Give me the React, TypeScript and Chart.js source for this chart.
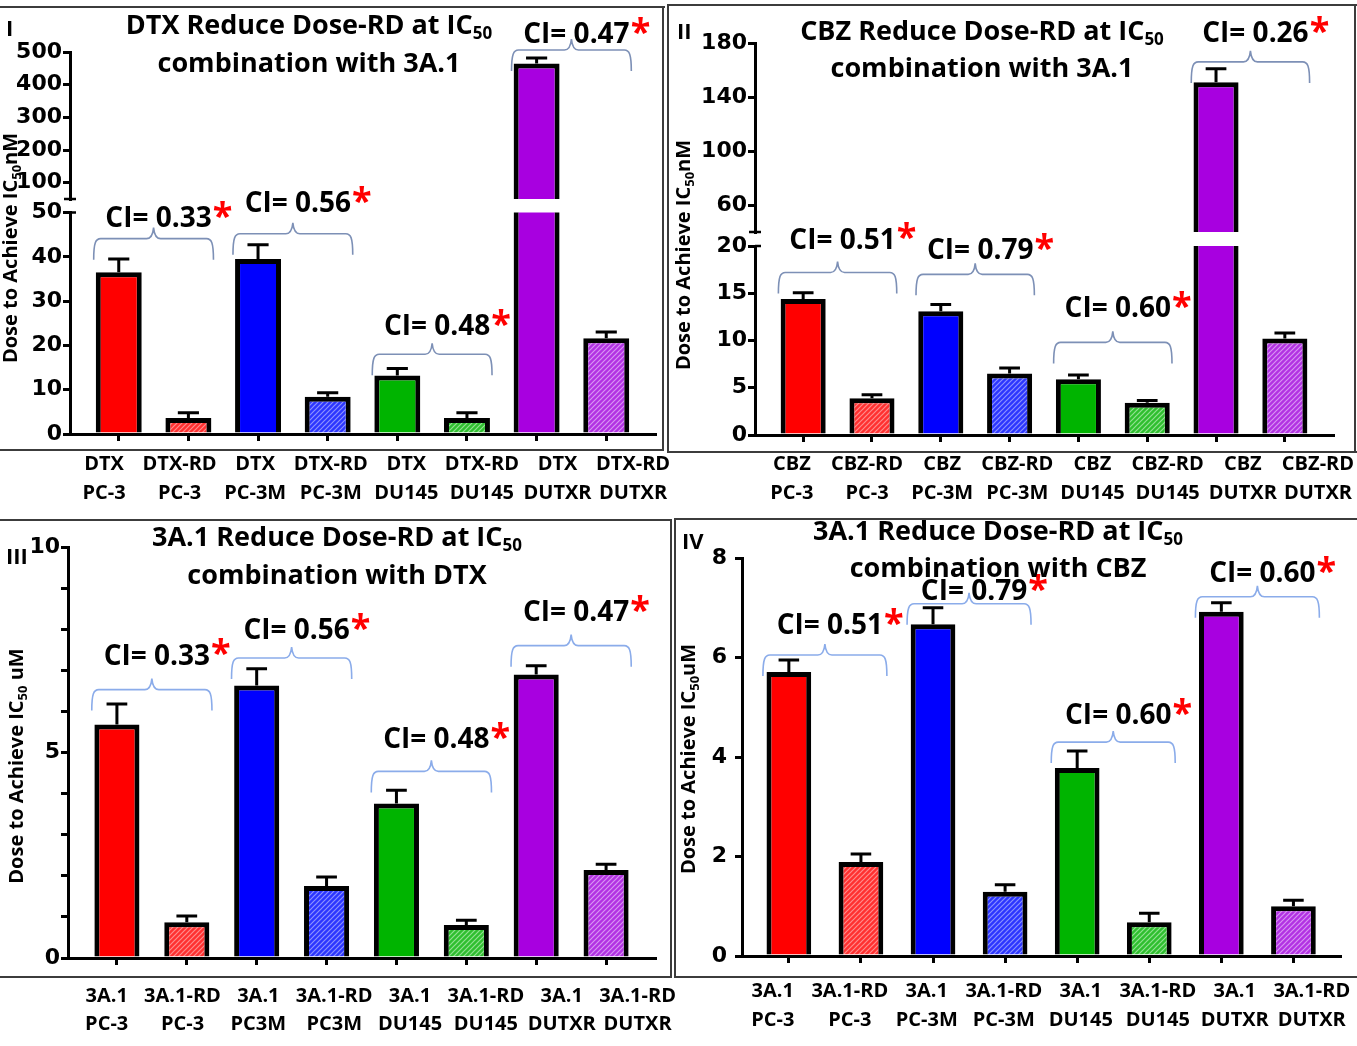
import React, { useEffect, useRef } from 'react';
import { Chart, registerables } from 'chart.js';
Chart.register(...registerables);

// ---------------- data ----------------
const dtxCategories = [['DTX', 'PC-3'], ['DTX-RD', 'PC-3'], ['DTX', 'PC-3M'], ['DTX-RD', 'PC-3M'], ['DTX', 'DU145'], ['DTX-RD', 'DU145'], ['DTX', 'DUTXR'], ['DTX-RD', 'DUTXR']];
const dtxDose = [36.5, 3.6, 39.5, 8.4, 13.2, 3.6, 465, 21.6];
const dtxSD = [3.0, 1.2, 3.2, 0.9, 1.6, 1.2, 17, 1.4];
const dtxCI = ['0.33', '0.56', '0.48', '0.47'];
const dtxTopTicks = [100, 200, 300, 400, 500];
const dtxBottomTicks = [0, 10, 20, 30, 40, 50];

const cbzCategories = [['CBZ', 'PC-3'], ['CBZ-RD', 'PC-3'], ['CBZ', 'PC-3M'], ['CBZ-RD', 'PC-3M'], ['CBZ', 'DU145'], ['CBZ-RD', 'DU145'], ['CBZ', 'DUTXR'], ['CBZ-RD', 'DUTXR']];
const cbzDose = [14.4, 3.9, 13.1, 6.5, 5.9, 3.4, 151, 10.2];
const cbzSD = [0.65, 0.35, 0.7, 0.6, 0.45, 0.25, 10, 0.6];
const cbzCI = ['0.51', '0.79', '0.60', '0.26'];
const cbzTopTicks = [60, 100, 140, 180];
const cbzBottomTicks = [0, 5, 10, 15, 20];

const a31DtxCategories = [['3A.1', 'PC-3'], ['3A.1-RD', 'PC-3'], ['3A.1', 'PC3M'], ['3A.1-RD', 'PC3M'], ['3A.1', 'DU145'], ['3A.1-RD', 'DU145'], ['3A.1', 'DUTXR'], ['3A.1-RD', 'DUTXR']];
const a31DtxDose = [5.68, 0.87, 6.63, 1.75, 3.76, 0.8, 6.9, 2.14];
const a31DtxSD = [0.5, 0.15, 0.41, 0.22, 0.32, 0.12, 0.21, 0.14];
const a31DtxCI = ['0.33', '0.56', '0.48', '0.47'];
const a31DtxTicks = [0, 1, 2, 3, 4, 5, 6, 7, 8, 9, 10];

const a31CbzCategories = [['3A.1', 'PC-3'], ['3A.1-RD', 'PC-3'], ['3A.1', 'PC-3M'], ['3A.1-RD', 'PC-3M'], ['3A.1', 'DU145'], ['3A.1-RD', 'DU145'], ['3A.1', 'DUTXR'], ['3A.1-RD', 'DUTXR']];
const a31CbzDose = [5.71, 1.89, 6.67, 1.29, 3.78, 0.68, 6.92, 1.0];
const a31CbzSD = [0.24, 0.16, 0.33, 0.14, 0.34, 0.18, 0.18, 0.12];
const a31CbzCI = ['0.51', '0.79', '0.60', '0.60'];
const a31CbzTicks = [0, 2, 4, 6, 8];

// ---------------- styles ----------------
const SOLID = ['#ff0000', '#0000ff', '#00b400', '#a800e0'];
const HATCH = [
  ['#ff3030', '#ff8c8c'],
  ['#2c36ff', '#8c92ff'],
  ['#2fbf2f', '#92e292'],
  ['#b232e3', '#d894f3'],
];
const SANS = '"Open Sans", "DejaVu Sans", sans-serif';
const font = (s: number) => `bold ${s}px ${SANS}`;

type Seg = { min: number; max: number; ticks: number[]; areaTop: number; areaBottom: number };
type Ann = { pair: number; at: number; lift: number; seg: 'top' | 'bottom' };
type Panel = {
  box: { left: number; top: number; width: number; height: number };
  categories: string[][];
  dose: number[];
  sd: number[];
  ci: string[];
  yWidth: number;
  yPad: number;
  padRight: number;
  xMin: number;
  xMax: number;
  barPct: number;
  labelMin: number;
  labelMax: number;
  labelPad: number;
  labelLine: number;
  labelEvery?: number;
  bottom: Seg;
  top?: Seg;
  ann: Ann[];
  bracketColor: string;
  title: { l1: string; l2: string; cx: number; cy1: number; cy2: number };
  yTitle: { x: number; cy: number; suffix: string };
  tag: { text: string; x: number; cy: number };
};

const panels: Panel[] = [
  {
    box: { left: 0, top: 0, width: 690, height: 515 },
    categories: dtxCategories, dose: dtxDose, sd: dtxSD, ci: dtxCI,
    yWidth: 70, yPad: 1, padRight: 35, xMin: -0.7, xMax: 7.7, barPct: 0.66,
    labelMin: -0.45, labelMax: 7.29, labelPad: 0.5, labelLine: 29,
    bottom: { min: 0, max: 50, ticks: dtxBottomTicks, areaTop: 212.5, areaBottom: 434 },
    top: { min: 50, max: 500, ticks: dtxTopTicks, areaTop: 52, areaBottom: 199 },
    ann: [
      { pair: 0, at: 44.1, lift: 22, seg: 'bottom' },
      { pair: 1, at: 45.2, lift: 32, seg: 'bottom' },
      { pair: 2, at: 18, lift: 29, seg: 'bottom' },
      { pair: 3, at: 506, lift: 17, seg: 'top' },
    ],
    bracketColor: '#7d90b6',
    title: { l1: 'DTX Reduce Dose-RD at IC', l2: 'combination with 3A.1', cx: 309, cy1: 24, cy2: 62 },
    yTitle: { x: 17, cy: 248, suffix: 'nM' },
    tag: { text: 'I', x: 6, cy: 28 },
  },
  {
    box: { left: 667, top: 0, width: 690, height: 515 },
    categories: cbzCategories, dose: cbzDose, sd: cbzSD, ci: cbzCI,
    yWidth: 88, yPad: 1, padRight: 24, xMin: -0.7, xMax: 7.7, barPct: 0.655,
    labelMin: -0.49, labelMax: 7.2, labelPad: -0.5, labelLine: 29,
    bottom: { min: 0, max: 20, ticks: cbzBottomTicks, areaTop: 246, areaBottom: 435 },
    top: { min: 40, max: 180, ticks: cbzTopTicks, areaTop: 43, areaBottom: 232 },
    ann: [
      { pair: 0, at: 17.2, lift: 34, seg: 'bottom' },
      { pair: 1, at: 17.0, lift: 25, seg: 'bottom' },
      { pair: 2, at: 9.8, lift: 35, seg: 'bottom' },
      { pair: 3, at: 166, lift: 30, seg: 'top' },
    ],
    bracketColor: '#7d90b6',
    title: { l1: 'CBZ Reduce Dose-RD at IC', l2: 'combination with 3A.1', cx: 315, cy1: 30, cy2: 67 },
    yTitle: { x: 23, cy: 255, suffix: 'nM' },
    tag: { text: 'II', x: 10, cy: 31 },
  },
  {
    box: { left: 0, top: 515, width: 700, height: 531 },
    categories: a31DtxCategories, dose: a31DtxDose, sd: a31DtxSD, ci: a31DtxCI,
    yWidth: 68, yPad: 1, padRight: 45, xMin: -0.7, xMax: 7.7, barPct: 0.645,
    labelMin: -0.51, labelMax: 7.23, labelPad: 9, labelLine: 28, labelEvery: 5,
    bottom: { min: 0, max: 10, ticks: a31DtxTicks, areaTop: 32, areaBottom: 443 },
    ann: [
      { pair: 0, at: 6.53, lift: 35, seg: 'bottom' },
      { pair: 1, at: 7.3, lift: 29, seg: 'bottom' },
      { pair: 2, at: 4.54, lift: 33, seg: 'bottom' },
      { pair: 3, at: 7.6, lift: 35, seg: 'bottom' },
    ],
    bracketColor: '#8bacea',
    title: { l1: '3A.1 Reduce Dose-RD at IC', l2: 'combination with DTX', cx: 337, cy1: 21, cy2: 59 },
    yTitle: { x: 23, cy: 251, suffix: ' uM' },
    tag: { text: 'III', x: 6, cy: 41 },
  },
  {
    box: { left: 673, top: 515, width: 684, height: 531 },
    categories: a31CbzCategories, dose: a31CbzDose, sd: a31CbzSD, ci: a31CbzCI,
    yWidth: 69, yPad: 8, padRight: 16, xMin: -0.65, xMax: 7.65, barPct: 0.62,
    labelMin: -0.4, labelMax: 7.37, labelPad: 6, labelLine: 29,
    bottom: { min: 0, max: 8, ticks: a31CbzTicks, areaTop: 43, areaBottom: 441 },
    ann: [
      { pair: 0, at: 6.05, lift: 31, seg: 'bottom' },
      { pair: 1, at: 7.08, lift: 14, seg: 'bottom' },
      { pair: 2, at: 4.3, lift: 28, seg: 'bottom' },
      { pair: 3, at: 7.22, lift: 25, seg: 'bottom' },
    ],
    bracketColor: '#8bacea',
    title: { l1: '3A.1 Reduce Dose-RD at IC', l2: 'combination with CBZ', cx: 325, cy1: 15, cy2: 52 },
    yTitle: { x: 22, cy: 244, suffix: 'uM' },
    tag: { text: 'IV', x: 9, cy: 26 },
  },
];

const frameLines = [
  { left: 0, top: 6, width: 665, height: 2 },
  { left: 662, top: 6, width: 2, height: 445 },
  { left: 0, top: 449, width: 664, height: 2 },
  { left: 667, top: 4, width: 690, height: 2 },
  { left: 667, top: 4, width: 2, height: 449 },
  { left: 1354, top: 4, width: 2, height: 449 },
  { left: 667, top: 451, width: 690, height: 2 },
  { left: 0, top: 519, width: 672, height: 2 },
  { left: 670, top: 519, width: 2, height: 459 },
  { left: 0, top: 976, width: 672, height: 2 },
  { left: 674, top: 518, width: 683, height: 2 },
  { left: 674, top: 518, width: 2, height: 460 },
  { left: 674, top: 976, width: 683, height: 2 },
];

// ---------------- helpers ----------------
function makeHatch(ctx: CanvasRenderingContext2D, base: string, line: string) {
  const c = document.createElement('canvas');
  c.width = 5; c.height = 5;
  const g = c.getContext('2d')!;
  g.fillStyle = base;
  g.fillRect(0, 0, 5, 5);
  g.strokeStyle = line;
  g.lineWidth = 1.2;
  g.beginPath();
  g.moveTo(-1, 6); g.lineTo(6, -1);
  g.moveTo(-3, 3); g.lineTo(3, -3);
  g.moveTo(2, 8); g.lineTo(8, 2);
  g.stroke();
  return ctx.createPattern(c, 'repeat')!;
}

function drawRich(ctx: CanvasRenderingContext2D, parts: [string, boolean][], cx: number, baseline: number, size: number) {
  const sub = Math.round(size * 0.64);
  const widths = parts.map(([t, s]) => { ctx.font = font(s ? sub : size); return ctx.measureText(t).width; });
  const total = widths.reduce((a, b) => a + b, 0);
  let x = cx - total / 2;
  ctx.textAlign = 'left';
  ctx.textBaseline = 'alphabetic';
  parts.forEach(([t, s], i) => {
    ctx.font = font(s ? sub : size);
    ctx.fillText(t, x, baseline + (s ? size * 0.2 : 0));
    x += widths[i];
  });
}

function bracket(ctx: CanvasRenderingContext2D, x1: number, x2: number, y: number, drop: number, rise: number, color: string) {
  const xm = (x1 + x2) / 2;
  const r = 7;
  ctx.save();
  ctx.strokeStyle = color;
  ctx.lineWidth = 1.6;
  ctx.beginPath();
  ctx.moveTo(x1, y + drop);
  ctx.bezierCurveTo(x1, y + 4, x1 + 2, y, x1 + r, y);
  ctx.lineTo(xm - r, y);
  ctx.quadraticCurveTo(xm - 1, y, xm, y - rise);
  ctx.quadraticCurveTo(xm + 1, y, xm + r, y);
  ctx.lineTo(x2 - r, y);
  ctx.bezierCurveTo(x2 - 2, y, x2, y + 4, x2, y + drop);
  ctx.stroke();
  ctx.restore();
}

function errorPlugin(sd: number[]) {
  return {
    id: 'errbars',
    afterDatasetsDraw(chart: any) {
      const ctx = chart.ctx as CanvasRenderingContext2D;
      const ys = chart.scales.y;
      const meta = chart.getDatasetMeta(0);
      const data = chart.data.datasets[0].data as { x: number; y: number }[];
      ctx.save();
      ctx.strokeStyle = '#000';
      ctx.lineWidth = 3;
      meta.data.forEach((bar: any, i: number) => {
        const v = data[i].y;
        const e = sd[i];
        if (v < ys.min || v + e > ys.max) return;
        const y0 = ys.getPixelForValue(v);
        const y1 = ys.getPixelForValue(v + e);
        const half = bar.width * 0.23;
        ctx.beginPath();
        ctx.moveTo(bar.x, y0);
        ctx.lineTo(bar.x, y1);
        ctx.moveTo(bar.x - half, y1);
        ctx.lineTo(bar.x + half, y1);
        ctx.stroke();
      });
      ctx.restore();
    },
  };
}

function decorPlugin(p: Panel, segKey: 'top' | 'bottom') {
  return {
    id: 'decor',
    afterDraw(chart: any) {
      const ctx = chart.ctx as CanvasRenderingContext2D;
      const xs = chart.scales.x;
      const ys = chart.scales.y;
      const area = chart.chartArea;
      ctx.save();
      if (p.top) {
        ctx.strokeStyle = '#000';
        ctx.lineWidth = 2.5;
        ctx.beginPath();
        if (segKey === 'top') {
          ctx.moveTo(area.left - 6, area.bottom);
          ctx.lineTo(area.left + 6, area.bottom);
        } else {
          ctx.moveTo(area.left, area.top);
          ctx.lineTo(area.left + 6, area.top);
        }
        ctx.stroke();
      }
      p.ann.forEach((a) => {
        if (a.seg !== segKey) return;
        const mid = a.pair * 2 + 0.5;
        const xm = xs.getPixelForValue(mid);
        const hw = xs.getPixelForValue(mid + 0.86) - xm;
        const y = ys.getPixelForValue(a.at);
        bracket(ctx, xm - hw, xm + hw, y, 21, 11, p.bracketColor);
        const size = 28;
        const txt = 'CI= ' + p.ci[a.pair];
        ctx.font = font(size);
        const w = ctx.measureText(txt).width;
        const cy = y - a.lift;
        const tx = xm + 5 - w / 2;
        ctx.fillStyle = '#000';
        ctx.textAlign = 'left';
        ctx.textBaseline = 'alphabetic';
        ctx.fillText(txt, tx, cy + size * 0.36);
        ctx.fillStyle = '#ff0000';
        ctx.font = font(36);
        ctx.fillText('*', tx + w + 1, cy - 10 + 36 * 0.58);
      });
      if (segKey === 'bottom') {
        ctx.fillStyle = '#000';
        const t = p.title;
        drawRich(ctx, [[t.l1, false], ['50', true]], t.cx, t.cy1 + 27 * 0.36, 27);
        drawRich(ctx, [[t.l2, false]], t.cx, t.cy2 + 27 * 0.36, 27);
        ctx.font = font(22);
        ctx.textAlign = 'left';
        ctx.textBaseline = 'alphabetic';
        ctx.fillText(p.tag.text, p.tag.x, p.tag.cy + 22 * 0.36);
        ctx.save();
        ctx.translate(p.yTitle.x, p.yTitle.cy);
        ctx.rotate(-Math.PI / 2);
        drawRich(ctx, [['Dose to Achieve IC', false], ['50', true], [p.yTitle.suffix, false]], 0, 0, 20);
        ctx.restore();
      }
      ctx.restore();
    },
  };
}

function buildChart(canvas: HTMLCanvasElement, p: Panel, segKey: 'top' | 'bottom') {
  const seg = segKey === 'top' ? p.top! : p.bottom;
  const ctx = canvas.getContext('2d')!;
  const fills = p.dose.map((_, i) => {
    const g = Math.floor(i / 2);
    return i % 2 === 0 ? SOLID[g] : makeHatch(ctx, HATCH[g][0], HATCH[g][1]);
  });
  const isBottom = segKey === 'bottom';
  const xlH = p.box.height - seg.areaBottom - 7;
  const padBottom = isBottom ? 0 : p.box.height - seg.areaBottom;
  const idx = p.categories.map((_, i) => ({ value: i }));
  const scales: any = {
    x: {
      type: 'linear', position: 'bottom', weight: 0, display: isBottom,
      min: p.xMin, max: p.xMax, offset: false, bounds: 'data',
      afterBuildTicks: (s: any) => { s.ticks = idx.map((t) => ({ ...t })); },
      afterFit: (s: any) => { s.height = isBottom ? 7 : 0; },
      grid: { display: true, offset: false, drawOnChartArea: false, drawTicks: true, tickLength: 7, color: '#000', lineWidth: 3 },
      border: { display: true, color: '#000', width: 3 },
      ticks: { display: false },
    },
    y: {
      type: 'linear', position: 'left', min: seg.min, max: seg.max, beginAtZero: false, bounds: 'data',
      afterBuildTicks: (s: any) => { s.ticks = seg.ticks.map((v) => ({ value: v })); },
      afterFit: (s: any) => { s.width = p.yWidth; },
      grid: { display: true, drawOnChartArea: false, drawTicks: true, tickLength: 7, color: '#000', lineWidth: 3 },
      border: { display: true, color: '#000', width: 3 },
      ticks: {
        autoSkip: false, color: '#000', padding: p.yPad,
        font: { family: '"DejaVu Sans", sans-serif', weight: 'bold', size: 22 },
        callback: (v: number) => (p.labelEvery && v % p.labelEvery !== 0 ? '' : String(v)),
      },
    },
  };
  if (isBottom) {
    scales.xl = {
      type: 'linear', position: 'bottom', weight: 1, min: p.labelMin, max: p.labelMax, offset: false, bounds: 'data',
      afterBuildTicks: (s: any) => { s.ticks = idx.map((t) => ({ ...t })); },
      afterFit: (s: any) => { s.height = xlH; },
      grid: { display: false },
      border: { display: false },
      ticks: {
        autoSkip: false, maxRotation: 0, minRotation: 0, padding: p.labelPad, color: '#000',
        font: { family: SANS, weight: 'bold', size: 20, lineHeight: p.labelLine / 20 },
        callback: (v: number) => p.categories[Math.round(v)] ?? '',
      },
    };
  }
  return new Chart(canvas, {
    type: 'bar',
    data: {
      datasets: [{
        data: p.dose.map((v, i) => ({ x: i, y: v })),
        backgroundColor: fills as any,
        borderColor: '#000',
        borderWidth: 5,
        borderSkipped: 'start',
        barPercentage: p.barPct,
        categoryPercentage: 1,
        clip: 0 as any,
      }],
    },
    options: {
      responsive: false,
      animation: false,
      events: [],
      layout: { padding: { left: 0, right: p.padRight, top: seg.areaTop, bottom: padBottom } },
      plugins: { legend: { display: false }, tooltip: { enabled: false }, title: { display: false } },
      scales,
    } as any,
    plugins: [errorPlugin(p.sd), decorPlugin(p, segKey)],
  });
}

export default function App() {
  const refs = useRef<(HTMLCanvasElement | null)[]>([]);
  useEffect(() => {
    const charts: Chart[] = [];
    panels.forEach((p, i) => {
      const b = refs.current[i * 2];
      const t = refs.current[i * 2 + 1];
      if (b) charts.push(buildChart(b, p, 'bottom'));
      if (t && p.top) charts.push(buildChart(t, p, 'top'));
    });
    return () => charts.forEach((c) => c.destroy());
  }, []);
  return (
    <div style={{ position: 'absolute', left: 0, top: 0, width: 1357, height: 1046, background: '#fff', overflow: 'hidden' }}>
      {frameLines.map((l, i) => (
        <div key={'f' + i} style={{ position: 'absolute', left: l.left, top: l.top, width: l.width, height: l.height, background: '#3c3c3c' }} />
      ))}
      {panels.map((p, i) => (
        <React.Fragment key={i}>
          <canvas
            ref={(el) => { refs.current[i * 2] = el; }}
            width={p.box.width}
            height={p.box.height}
            style={{ position: 'absolute', left: p.box.left, top: p.box.top }}
          />
          {p.top && (
            <canvas
              ref={(el) => { refs.current[i * 2 + 1] = el; }}
              width={p.box.width}
              height={p.box.height}
              style={{ position: 'absolute', left: p.box.left, top: p.box.top }}
            />
          )}
        </React.Fragment>
      ))}
    </div>
  );
}
